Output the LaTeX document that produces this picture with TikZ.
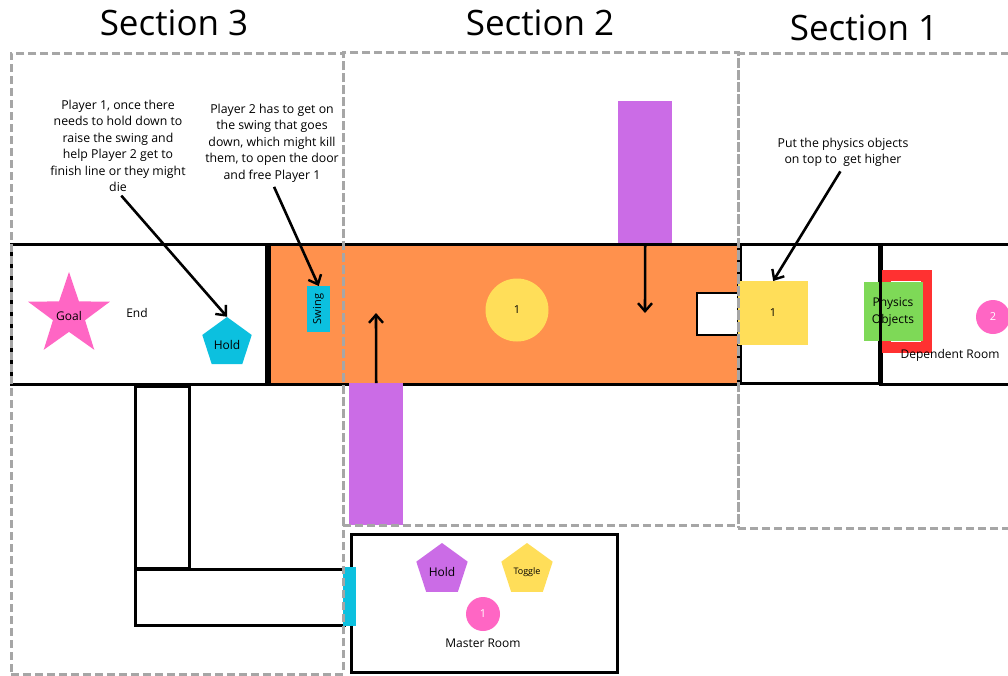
\documentclass[tikz,border=0pt]{standalone}
\usepackage{fontspec}
\setmainfont{Open Sans}
\usetikzlibrary{shapes.geometric,arrows.meta}
\definecolor{sgray}{HTML}{A6A6A6}
\definecolor{oran}{HTML}{FF914D}
\definecolor{purp}{HTML}{CB6CE6}
\definecolor{cyanb}{HTML}{0CC0DF}
\definecolor{yel}{HTML}{FFDE59}
\definecolor{pinkc}{HTML}{FF66C4}
\definecolor{grn}{HTML}{7ED957}
\definecolor{redb}{HTML}{FF3131}
\begin{document}
\begin{tikzpicture}[x=1pt,y=-1pt,
  box/.style={rectangle, draw=black, fill=white, line width=2.5pt, inner sep=0pt, anchor=north west},
  flat/.style={rectangle, inner sep=0pt, anchor=north west},
  section/.style={rectangle, draw=sgray, line width=2.8pt, dash pattern=on 8pt off 4pt, inner sep=0pt, anchor=north west},
  title/.style={font=\fontsize{35}{40}\selectfont, inner sep=0pt},
  note/.style={font=\fontsize{12.3}{16.4}\selectfont, align=center, inner sep=0pt},
  lbl/.style={font=\fontsize{12}{14}\selectfont, inner sep=0pt},
  penta/.style={regular polygon, regular polygon sides=5, inner sep=0pt, font=\fontsize{12}{14}\selectfont},
  dot/.style={circle, inner sep=0pt, font=\fontsize{11}{13}\selectfont},
  arr/.style={line width=2.6pt, -{Straight Barb[length=8pt,width=14pt,line width=2.4pt]}}
]
\useasboundingbox (0,0) rectangle (1008,675);
\clip (0,0) rectangle (1008,675);

% titles
\node[title] (t3) at (174,23) {Section 3};
\node[title] (t2) at (540,23) {Section 2};
\node[title] (t1) at (864,28) {Section 1};

% main corridor rooms
\node[box, minimum width=255, minimum height=140] (endroom) at (10,243) {};
\node[lbl] (endlbl) at (137,313) {End};
\node[box, fill=oran, minimum width=469, minimum height=140] (orange) at (268,243) {};
\node[box, minimum width=139, minimum height=139] (room1) at (739,243) {};
\node[box, minimum width=140, minimum height=140] (deproom) at (880,243) {};

% goal star
\node[star, star points=5, star point ratio=2.55, fill=pinkc, minimum size=86, inner sep=0pt] (goal) at (69,315) {};
\node[lbl] (goallbl) at (69,316) {Goal};
% hold (cyan)
\node[penta, fill=cyanb, minimum size=52] (hold) at (227,343) {};
\node[lbl] (holdlbl) at (227,345) {Hold};
% swing
\node[flat, fill=cyanb, minimum width=23, minimum height=46] (swing) at (307,286) {};
\node[lbl, rotate=90, font=\fontsize{11}{13}\selectfont] (swinglbl) at (318.5,309) {Swing};

% purple moving blocks
\node[flat, fill=purp, minimum width=54, minimum height=142] (ptop) at (618,101) {};
\node[flat, fill=purp, minimum width=54, minimum height=142] (pbot) at (349,383) {};
\coordinate (ptopend) at (645,313);
\coordinate (pbotend) at (376,313);
\draw[arr] (ptop.south) -- (ptopend);
\draw[arr] (pbot.north) -- (pbotend);

% yellow circle 1
\node[dot, fill=yel, minimum size=63] (p1) at (517,310) {1};
% small white box
\node[box, line width=2.2pt, minimum width=41, minimum height=42] (gap) at (696,292) {};

% section 1 items
\node[flat, fill=yel, minimum width=70, minimum height=64] (ysq) at (738,281) {};
\node[lbl, font=\fontsize{11}{13}\selectfont] (ysqlbl) at (773,313) {1};
\draw[redb, line width=11pt] (885.5,275.5) rectangle (926.5,347.5);
\node[flat, fill=grn, minimum width=59, minimum height=59] (phys) at (864,282) {};
\draw[line width=2.5pt] (room1.north east) -- (room1.south east);
\draw[line width=2.5pt] (deproom.north west) -- (deproom.south west);
\node[lbl, align=center, font=\fontsize{12}{17}\selectfont] (physlbl) at (893,312) {Physics\\Objects};
\node[lbl] (deplbl) at (950,355) {Dependent Room};
\node[dot, fill=pinkc, text=white, minimum size=34] (p2) at (993,317) {2};

% lower left corridors
\node[box, minimum width=54, minimum height=182] (vcor) at (134,385) {};
\draw[line width=4pt] (vcor.south west) -- (vcor.south east);
\node[box, minimum width=209, minimum height=56] (hcor) at (134,568) {};

% master room
\node[box, minimum width=266, minimum height=138] (master) at (350,533) {};
\node[flat, fill=cyanb, minimum width=13, minimum height=59] (door) at (342.5,567) {};
\node[penta, fill=purp, minimum size=54] (mhold) at (442,570) {};
\node[lbl] (mholdlbl) at (442,572) {Hold};
\node[penta, fill=yel, minimum size=54] (mtog) at (527,570) {};
\node[lbl, font=\fontsize{9}{11}\selectfont] (mtoglbl) at (527,572) {Toggle};
\node[dot, fill=pinkc, text=white, minimum size=34] (mp1) at (483,614) {1};
\node[lbl] (masterlbl) at (483,643) {Master Room};

% annotations
\node[note, anchor=north] (n1) at (118,100) {Player 1, once there\\needs to hold down to\\raise the swing and\\help Player 2 get to\\finish line or they might\\die};
\node[note, anchor=north] (n2) at (272,104) {Player 2 has to get on\\the swing that goes\\down, which might kill\\them, to open the door\\and free Player 1};
\node[note, anchor=north] (n3) at (843,138) {Put the physics objects\\on top to\ \ get higher};
\draw[arr, shorten <=5pt] (n1.south) -- (hold.north);
\draw[arr, shorten <=5pt] (n2.south) -- (swing.north);
\draw[arr, shorten <=5pt] (n3.south) -- (ysq.north);

% dashed section frames
\node[section, minimum width=332, minimum height=621] (sec3) at (10,52) {};
\node[section, minimum width=395, minimum height=473] (sec2) at (342,51) {};
\node[section, minimum width=300, minimum height=475] (sec1) at (737,52) {};
\end{tikzpicture}
\end{document}
